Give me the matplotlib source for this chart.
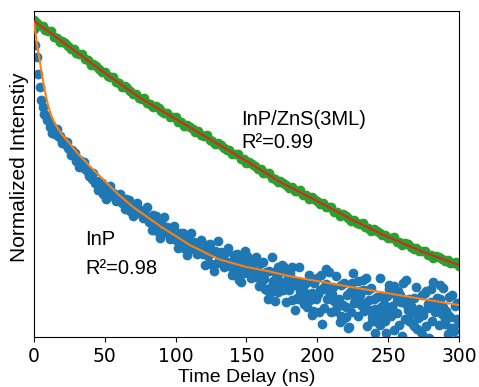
import numpy as np
import matplotlib
matplotlib.use('Agg')
import matplotlib.pyplot as plt

# --- datos (cuentas, se normalizan con NORM) ---
NORM = 316.0

# InP: una muestra por ns, 0..300 ns
t_inp = np.arange(0, 301, 1)
c_inp = [
    308, 292, 280, 263, 250, 237, 230, 223, 222, 217,
    218, 210, 212, 204, 208, 203, 208, 201, 201, 198,
    194, 196, 193, 195, 189, 188, 182, 187, 182, 184,
    176, 178, 170, 176, 170, 175, 168, 168, 165, 161,
    164, 158, 164, 154, 155, 147, 156, 149, 154, 143,
    149, 138, 147, 141, 151, 142, 144, 141, 136, 142,
    137, 143, 134, 135, 128, 138, 131, 137, 126, 132,
    121, 130, 124, 134, 125, 127, 125, 119, 125, 120,
    130, 115, 118, 107, 122, 113, 121, 106, 114, 99,
    114, 104, 120, 106, 110, 106, 98, 108, 101, 111,
    97, 100, 89, 104, 95, 104, 89, 97, 82, 97,
    88, 104, 90, 95, 91, 83, 93, 86, 97, 83,
    86, 72, 92, 81, 93, 73, 85, 66, 86, 74,
    96, 79, 85, 80, 70, 84, 75, 89, 71, 75,
    62, 82, 71, 83, 63, 75, 55, 76, 64, 86,
    68, 74, 69, 59, 73, 64, 78, 60, 64, 51,
    74, 58, 75, 48, 65, 38, 66, 50, 80, 56,
    65, 59, 45, 64, 52, 72, 47, 53, 35, 63,
    47, 64, 37, 54, 27, 55, 39, 70, 46, 54,
    48, 35, 54, 43, 62, 37, 44, 26, 54, 38,
    59, 25, 47, 13, 49, 29, 68, 38, 49, 42,
    25, 50, 36, 61, 30, 38, 15, 52, 32, 54,
    20, 42, 9, 45, 25, 64, 34, 45, 38, 21,
    46, 32, 57, 26, 34, 11, 47, 27, 49, 16,
    38, 4, 40, 20, 59, 30, 41, 33, 16, 41,
    27, 52, 21, 30, 7, 43, 24, 46, 12, 35,
    1, 37, 18, 57, 27, 38, 31, 14, 39, 25,
    50, 19, 28, 5, 42, 22, 44, 11, 33, -1,
    35, 16, 55, 25, 36, 29, 12, 38, 23, 49,
    18, 26, 3, 40, 20, 42, 9, 31, -3, 34,
    14,
]

# InP: muestras intermedias de la cola (140.5 .. 298.5 ns, cada 2 ns)
t_inp_b = np.arange(140.5, 299, 2)
c_inp_b = [
    63, 70, 57, 82, 71, 81, 72, 74, 80, 66,
    53, 58, 47, 44, 52, 36, 70, 55, 70, 57,
    61, 70, 52, 38, 43, 33, 30, 39, 22, 57,
    43, 62, 48, 53, 65, 43, 26, 34, 21, 18,
    30, 10, 54, 37, 56, 42, 47, 59, 37, 20,
    28, 15, 12, 24, 4, 48, 31, 51, 36, 42,
    54, 33, 16, 24, 11, 8, 21, 1, 46, 29,
    48, 34, 39, 52, 30, 13, 22, 9, 6, 18,
]

# Ajuste InP
t_fit_inp = [0, 1, 2, 3, 4, 5, 7.5, 10, 12.5, 15, 17.5, 20, 25, 30, 40, 50,
             60, 70, 80, 90, 100, 110, 120, 130, 140, 150, 165, 180, 200,
             220, 245, 270, 300]
c_fit_inp = [315, 304, 294, 285, 277, 267, 247, 231, 220, 213, 207, 202, 194,
             185, 170, 156, 142, 130, 120, 110, 101, 92, 85, 78, 74, 70, 66,
             61, 56, 51, 45, 39, 32]

# InP/ZnS(3ML): una muestra cada 2 ns
t_core = np.arange(0, 301, 2)
c_core = [
    317, 314, 311, 311, 307, 306, 306, 300, 299, 295,
    296, 294, 291, 288, 288, 284, 283, 283, 278, 277,
    272, 273, 271, 268, 265, 265, 261, 260, 260, 255,
    254, 250, 251, 249, 246, 243, 243, 239, 238, 239,
    234, 233, 230, 231, 229, 226, 224, 224, 220, 220,
    220, 215, 215, 211, 212, 210, 208, 205, 206, 202,
    201, 202, 197, 196, 193, 194, 192, 189, 187, 187,
    183, 183, 183, 178, 178, 174, 175, 173, 171, 168,
    168, 164, 164, 164, 159, 158, 155, 156, 154, 152,
    149, 150, 146, 146, 147, 142, 142, 138, 140, 138,
    136, 133, 134, 130, 130, 130, 125, 125, 121, 123,
    121, 119, 116, 117, 114, 113, 114, 110, 109, 106,
    108, 106, 104, 102, 102, 99, 99, 100, 95, 95,
    92, 94, 93, 90, 88, 89, 86, 86, 86, 82,
    82, 79, 81, 80, 78, 76, 77, 74, 74, 75,
    71,
]

t_fit_core = [0, 25, 50, 75, 100, 125, 150, 175, 200, 225, 250, 275, 300]
c_fit_core = [316, 290, 264, 239, 218, 197, 176, 154, 136, 117, 100, 85, 72]

y_inp = np.array(c_inp) / NORM
y_inp_b = np.array(c_inp_b) / NORM
y_fit_inp = np.array(c_fit_inp) / NORM
y_core = np.array(c_core) / NORM
y_fit_core = np.array(c_fit_core) / NORM

fig = plt.figure(figsize=(4.79, 3.87), dpi=100)
ax = fig.add_axes([0.071, 0.129, 0.887, 0.843])

ax.scatter(np.concatenate([t_inp, t_inp_b]), np.concatenate([y_inp, y_inp_b]),
           s=36, color='#1f77b4', zorder=2)
ax.plot(t_fit_inp, y_fit_inp, color='#ff7f0e', lw=1.5, zorder=3)
ax.scatter(t_core, y_core, s=36, color='#2ca02c', zorder=2)
ax.plot(t_fit_core, y_fit_core, color='#d62728', lw=1.5, zorder=3)

ax.set_xlim(0, 300)
ax.set_ylim(0, 1.032)
ax.set_xticks([0, 50, 100, 150, 200, 250, 300])
ax.tick_params(axis='x', labelsize=13.5)
ax.tick_params(axis='y', left=False, labelleft=False)

ax.set_xlabel('Time Delay (ns)', labelpad=2.5, family='Liberation Sans',
              fontsize=14)
ax.set_ylabel('Normalized Intenstiy', family='Liberation Sans', fontsize=15)
ax.yaxis.set_label_coords(-0.012, 0.52)

lab = dict(family='Liberation Sans', fontsize=14.5)
ax.text(146.5, 0.671, 'InP/ZnS(3ML)', **lab)
ax.text(146.5, 0.598, 'R²=0.99', **lab)
ax.text(36, 0.291, 'InP', **lab)
ax.text(36, 0.200, 'R²=0.98', **lab)

fig.savefig('out.png', dpi=100)
